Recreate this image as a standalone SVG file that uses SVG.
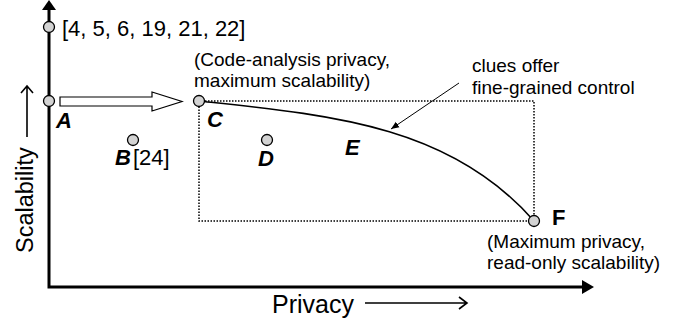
<svg xmlns="http://www.w3.org/2000/svg" width="678" height="323" viewBox="0 0 678 323">
<style>
text{font-family:"Liberation Sans",Arial,sans-serif;fill:#000}
.lbl{font-size:22px;font-weight:bold;font-style:italic}
.note{font-size:19px}
.pt{fill:#d3d3d3;stroke:#000;stroke-width:1.3}
.axis{stroke:#000;stroke-width:3;fill:none}
</style>
<defs>
<marker id="thin" viewBox="0 0 10 10" refX="10" refY="5" markerWidth="8" markerHeight="8" orient="auto" markerUnits="userSpaceOnUse">
<path d="M0,1 L10,5 L0,9 z" fill="#000"/>
</marker>
</defs>
<rect width="678" height="323" fill="#fff"/>
<g id="connectors">
<path class="axis" d="M49,9 V287 H584"/>
<polygon points="49,0 42,10 56,10" fill="#000"/>
<polygon points="594,287 582,280 582,294" fill="#000"/>
<rect x="199" y="101" width="335" height="120" fill="none" stroke="#000" stroke-width="1.5" stroke-dasharray="1.5,1.5"/>
<path d="M199,101 C330,115 450,125 534,221" fill="none" stroke="#000" stroke-width="1.6"/>
<polygon points="60,97 152,97 152,92 182,101.5 152,111 152,106 60,106" fill="#fff" stroke="#000" stroke-width="1.2"/>
<line x1="459" y1="83" x2="391" y2="129" stroke="#000" stroke-width="1" marker-end="url(#thin)"/>
</g>
<g id="axis-labels">
<text x="33" y="253" font-size="23.5" transform="rotate(-90 33 253)">Scalability</text>
<path d="M27,137 V86 M21,93 L27,86 L33,93" fill="none" stroke="#000" stroke-width="1.6"/>
<text x="272" y="313" font-size="25">Privacy</text>
<path d="M365,303 H467 M459,297 L467,303 L459,309" fill="none" stroke="#000" stroke-width="1.6"/>
</g>
<g id="node-top">
<circle class="pt" cx="49" cy="27" r="5.5"/>
<text x="62" y="36" font-size="22">[4, 5, 6, 19, 21, 22]</text>
</g>
<g id="node-A">
<circle class="pt" cx="49" cy="101" r="5.5"/>
<text class="lbl" x="56" y="128">A</text>
</g>
<g id="node-B">
<circle class="pt" cx="133" cy="140" r="5.5"/>
<text class="lbl" x="115" y="165">B</text>
<text x="133" y="165" font-size="22">[24]</text>
</g>
<g id="node-C">
<circle class="pt" cx="199" cy="101" r="5.5"/>
<text class="lbl" x="207" y="127">C</text>
<text class="note" x="194" y="66">(Code-analysis privacy,</text>
<text class="note" x="194" y="87">maximum scalability)</text>
</g>
<g id="node-D">
<circle class="pt" cx="267" cy="140" r="5.5"/>
<text class="lbl" x="258" y="166">D</text>
</g>
<g id="node-E">
<text class="lbl" x="345" y="155">E</text>
</g>
<g id="node-F">
<circle class="pt" cx="534" cy="221" r="5.5"/>
<text x="552" y="225" font-size="22" font-weight="bold">F</text>
<text class="note" x="487" y="248">(Maximum privacy,</text>
<text class="note" x="487" y="269">read-only scalability)</text>
</g>
<g id="note-clues">
<text class="note" x="472" y="72">clues offer</text>
<text class="note" x="472" y="94">fine-grained control</text>
</g>
</svg>
